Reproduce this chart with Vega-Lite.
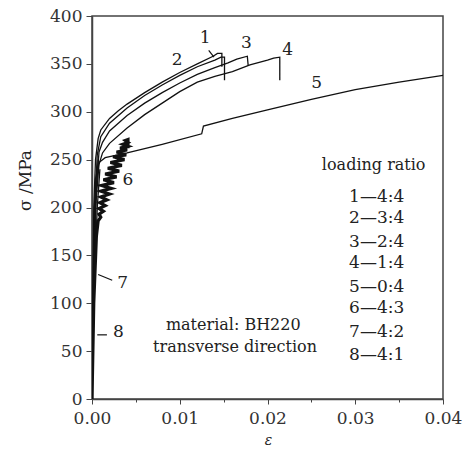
{
  "$schema": "https://vega.github.io/schema/vega-lite/v6.json",
  "width": 351,
  "height": 383,
  "autosize": {"type": "none"},
  "padding": {"left": 92, "top": 16, "right": 22, "bottom": 53},
  "background": "white",
  "config": {
    "view": {"stroke": "#444", "strokeWidth": 1.5},
    "font": "DejaVu Serif",
    "axis": {"grid": false, "domainColor": "#444", "domainWidth": 1.5, "tickColor": "#444", "labelColor": "#333", "labelFont": "DejaVu Serif", "labelFontSize": 17, "titleFont": "DejaVu Serif", "titleFontWeight": "normal", "titleColor": "#222"}
  },
  "datasets": {
    "curves": [
      {"s": "1", "i": 0, "x": 0, "y": 0},
      {"s": "1", "i": 1, "x": 0.0001, "y": 100},
      {"s": "1", "i": 2, "x": 0.0002, "y": 200},
      {"s": "1", "i": 3, "x": 0.0004, "y": 250},
      {"s": "1", "i": 4, "x": 0.0007, "y": 272},
      {"s": "1", "i": 5, "x": 0.001, "y": 281},
      {"s": "1", "i": 6, "x": 0.002, "y": 293},
      {"s": "1", "i": 7, "x": 0.003, "y": 301},
      {"s": "1", "i": 8, "x": 0.004, "y": 308},
      {"s": "1", "i": 9, "x": 0.006, "y": 320},
      {"s": "1", "i": 10, "x": 0.008, "y": 331},
      {"s": "1", "i": 11, "x": 0.010, "y": 341},
      {"s": "1", "i": 12, "x": 0.012, "y": 350},
      {"s": "1", "i": 13, "x": 0.0138, "y": 358},
      {"s": "1", "i": 14, "x": 0.0143, "y": 361},
      {"s": "1", "i": 15, "x": 0.0148, "y": 361},
      {"s": "1", "i": 16, "x": 0.0148, "y": 347},
      {"s": "2", "i": 0, "x": 0, "y": 0},
      {"s": "2", "i": 1, "x": 0.0001, "y": 90},
      {"s": "2", "i": 2, "x": 0.0003, "y": 200},
      {"s": "2", "i": 3, "x": 0.0006, "y": 255},
      {"s": "2", "i": 4, "x": 0.001, "y": 274},
      {"s": "2", "i": 5, "x": 0.002, "y": 288},
      {"s": "2", "i": 6, "x": 0.004, "y": 304},
      {"s": "2", "i": 7, "x": 0.006, "y": 317},
      {"s": "2", "i": 8, "x": 0.008, "y": 328},
      {"s": "2", "i": 9, "x": 0.010, "y": 338},
      {"s": "2", "i": 10, "x": 0.012, "y": 347},
      {"s": "2", "i": 11, "x": 0.014, "y": 354},
      {"s": "2", "i": 12, "x": 0.0147, "y": 357},
      {"s": "2", "i": 13, "x": 0.0151, "y": 357},
      {"s": "2", "i": 14, "x": 0.0151, "y": 333},
      {"s": "3", "i": 0, "x": 0, "y": 0},
      {"s": "3", "i": 1, "x": 0.0001, "y": 80},
      {"s": "3", "i": 2, "x": 0.0004, "y": 210},
      {"s": "3", "i": 3, "x": 0.0008, "y": 258},
      {"s": "3", "i": 4, "x": 0.0012, "y": 268},
      {"s": "3", "i": 5, "x": 0.002, "y": 280},
      {"s": "3", "i": 6, "x": 0.004, "y": 296},
      {"s": "3", "i": 7, "x": 0.006, "y": 309},
      {"s": "3", "i": 8, "x": 0.008, "y": 320},
      {"s": "3", "i": 9, "x": 0.010, "y": 330},
      {"s": "3", "i": 10, "x": 0.012, "y": 339},
      {"s": "3", "i": 11, "x": 0.014, "y": 346},
      {"s": "3", "i": 12, "x": 0.0155, "y": 351},
      {"s": "3", "i": 13, "x": 0.0165, "y": 355},
      {"s": "3", "i": 14, "x": 0.0177, "y": 358},
      {"s": "3", "i": 15, "x": 0.0178, "y": 348},
      {"s": "4", "i": 0, "x": 0, "y": 0},
      {"s": "4", "i": 1, "x": 0.0001, "y": 70},
      {"s": "4", "i": 2, "x": 0.0004, "y": 200},
      {"s": "4", "i": 3, "x": 0.0008, "y": 245},
      {"s": "4", "i": 4, "x": 0.0012, "y": 257},
      {"s": "4", "i": 5, "x": 0.002, "y": 267},
      {"s": "4", "i": 6, "x": 0.004, "y": 283},
      {"s": "4", "i": 7, "x": 0.006, "y": 297},
      {"s": "4", "i": 8, "x": 0.008, "y": 309},
      {"s": "4", "i": 9, "x": 0.010, "y": 321},
      {"s": "4", "i": 10, "x": 0.012, "y": 331},
      {"s": "4", "i": 11, "x": 0.014, "y": 337},
      {"s": "4", "i": 12, "x": 0.016, "y": 342},
      {"s": "4", "i": 13, "x": 0.018, "y": 349},
      {"s": "4", "i": 14, "x": 0.020, "y": 354},
      {"s": "4", "i": 15, "x": 0.0207, "y": 356},
      {"s": "4", "i": 16, "x": 0.0214, "y": 357},
      {"s": "4", "i": 17, "x": 0.0214, "y": 333},
      {"s": "5", "i": 0, "x": 0, "y": 0},
      {"s": "5", "i": 1, "x": 0.0001, "y": 90},
      {"s": "5", "i": 2, "x": 0.0002, "y": 180},
      {"s": "5", "i": 3, "x": 0.0004, "y": 230},
      {"s": "5", "i": 4, "x": 0.0008, "y": 247},
      {"s": "5", "i": 5, "x": 0.0015, "y": 252},
      {"s": "5", "i": 6, "x": 0.004, "y": 257},
      {"s": "5", "i": 7, "x": 0.008, "y": 266},
      {"s": "5", "i": 8, "x": 0.0125, "y": 277},
      {"s": "5", "i": 9, "x": 0.0127, "y": 285},
      {"s": "5", "i": 10, "x": 0.016, "y": 293},
      {"s": "5", "i": 11, "x": 0.020, "y": 302},
      {"s": "5", "i": 12, "x": 0.025, "y": 313},
      {"s": "5", "i": 13, "x": 0.030, "y": 323},
      {"s": "5", "i": 14, "x": 0.035, "y": 331},
      {"s": "5", "i": 15, "x": 0.040, "y": 338},
      {"s": "7", "i": 0, "x": 0, "y": 0},
      {"s": "7", "i": 1, "x": 0.0003, "y": 130},
      {"s": "7", "i": 2, "x": 0.0006, "y": 200},
      {"s": "7", "i": 3, "x": 0.0009, "y": 240},
      {"s": "8", "i": 0, "x": 0, "y": 0},
      {"s": "8", "i": 1, "x": 0.0001, "y": 70},
      {"s": "8", "i": 2, "x": 0.0003, "y": 150},
      {"s": "8", "i": 3, "x": 0.0005, "y": 220},
      {"s": "8", "i": 4, "x": 0.0007, "y": 250}
    ],
    "curve6": [
      {"s": "6", "i": 0, "x": 0, "y": 0},
      {"s": "6", "i": 1, "x": 0.0002, "y": 100},
      {"s": "6", "i": 2, "x": 0.0005, "y": 170},
      {"s": "6", "i": 3, "x": 0.0007, "y": 186},
      {"s": "6", "i": 4, "x": 0.0010, "y": 190},
      {"s": "6", "i": 5, "x": 0.0008, "y": 193},
      {"s": "6", "i": 6, "x": 0.0013, "y": 196},
      {"s": "6", "i": 7, "x": 0.0008, "y": 199},
      {"s": "6", "i": 8, "x": 0.0015, "y": 202},
      {"s": "6", "i": 9, "x": 0.0009, "y": 205},
      {"s": "6", "i": 10, "x": 0.0017, "y": 208},
      {"s": "6", "i": 11, "x": 0.0010, "y": 211},
      {"s": "6", "i": 12, "x": 0.0020, "y": 214},
      {"s": "6", "i": 13, "x": 0.0010, "y": 217},
      {"s": "6", "i": 14, "x": 0.0022, "y": 220},
      {"s": "6", "i": 15, "x": 0.0011, "y": 223},
      {"s": "6", "i": 16, "x": 0.0025, "y": 226},
      {"s": "6", "i": 17, "x": 0.0013, "y": 229},
      {"s": "6", "i": 18, "x": 0.0028, "y": 232},
      {"s": "6", "i": 19, "x": 0.0015, "y": 235},
      {"s": "6", "i": 20, "x": 0.0031, "y": 238},
      {"s": "6", "i": 21, "x": 0.0018, "y": 241},
      {"s": "6", "i": 22, "x": 0.0034, "y": 244},
      {"s": "6", "i": 23, "x": 0.0021, "y": 247},
      {"s": "6", "i": 24, "x": 0.0037, "y": 250},
      {"s": "6", "i": 25, "x": 0.0024, "y": 253},
      {"s": "6", "i": 26, "x": 0.0039, "y": 255},
      {"s": "6", "i": 27, "x": 0.0028, "y": 258},
      {"s": "6", "i": 28, "x": 0.0040, "y": 260},
      {"s": "6", "i": 29, "x": 0.0032, "y": 262},
      {"s": "6", "i": 30, "x": 0.0041, "y": 264},
      {"s": "6", "i": 31, "x": 0.0035, "y": 266},
      {"s": "6", "i": 32, "x": 0.0041, "y": 268},
      {"s": "6", "i": 33, "x": 0.0038, "y": 270},
      {"s": "6", "i": 34, "x": 0.0041, "y": 271},
      {"s": "6", "i": 35, "x": 0.0041, "y": 262}
    ],
    "leaders": [
      {"x": 0.0133, "y": 364, "x2": 0.0139, "y2": 357},
      {"x": 0.0007, "y": 130, "x2": 0.0023, "y2": 124},
      {"x": 0.0006, "y": 67, "x2": 0.0017, "y2": 67}
    ],
    "curveLabels": [
      {"t": "1", "x": 0.0129, "y": 377},
      {"t": "2", "x": 0.0097, "y": 354},
      {"t": "3", "x": 0.0176, "y": 372},
      {"t": "4", "x": 0.0223, "y": 365},
      {"t": "5", "x": 0.0256, "y": 330},
      {"t": "6", "x": 0.0041, "y": 229},
      {"t": "7", "x": 0.0035, "y": 121},
      {"t": "8", "x": 0.0030, "y": 70}
    ],
    "centerText": [
      {"t": "loading ratio", "x": 0.0321, "y": 244},
      {"t": "material: BH220", "x": 0.0161, "y": 77},
      {"t": "transverse direction", "x": 0.0163, "y": 54}
    ],
    "legendRows": [
      {"t": "1—4:4", "x": 0.0293, "y": 211},
      {"t": "2—3:4", "x": 0.0293, "y": 189},
      {"t": "3—2:4", "x": 0.0293, "y": 164},
      {"t": "4—1:4", "x": 0.0293, "y": 142},
      {"t": "5—0:4", "x": 0.0293, "y": 117},
      {"t": "6—4:3", "x": 0.0293, "y": 95},
      {"t": "7—4:2", "x": 0.0293, "y": 70},
      {"t": "8—4:1", "x": 0.0293, "y": 46}
    ]
  },
  "layer": [
    {
      "data": {"name": "curves"},
      "mark": {"type": "line", "color": "#111", "clip": true, "strokeWidth": 1.3},
      "encoding": {
        "x": {
          "field": "x", "type": "quantitative",
          "scale": {"domain": [0, 0.04], "nice": false, "zero": true},
          "axis": {
            "title": "ε", "titleFontStyle": "italic", "titleFontSize": 14, "titleX": 176, "titleY": 45, "titleBaseline": "alphabetic",
            "values": [0, 0.005, 0.01, 0.015, 0.02, 0.025, 0.03, 0.035, 0.04],
            "labelExpr": "round(datum.value*1000) % 10 === 0 ? format(datum.value, '.2f') : ''",
            "labelFlush": false, "labelPadding": 6,
            "tickSize": {"condition": {"test": "round(datum.value*1000) % 10 === 0", "value": 5}, "value": 3}
          }
        },
        "y": {
          "field": "y", "type": "quantitative",
          "scale": {"domain": [0, 400], "nice": false},
          "axis": {
            "title": "σ /MPa", "titleFontSize": 17, "titleX": -62, "titleY": 164, "titleAlign": "center", "titleBaseline": "alphabetic",
            "values": [0, 25, 50, 75, 100, 125, 150, 175, 200, 225, 250, 275, 300, 325, 350, 375, 400],
            "labelExpr": "datum.value % 50 === 0 ? datum.label : ''",
            "labelPadding": 4,
            "tickSize": {"condition": {"test": "datum.value % 50 === 0", "value": 6}, "value": 3}
          }
        },
        "detail": {"field": "s", "type": "nominal"},
        "order": {"field": "i", "type": "quantitative"}
      }
    },
    {
      "data": {"name": "curve6"},
      "mark": {"type": "line", "color": "#111", "clip": true, "strokeWidth": 3.2},
      "encoding": {
        "x": {"field": "x", "type": "quantitative"},
        "y": {"field": "y", "type": "quantitative"},
        "order": {"field": "i", "type": "quantitative"}
      }
    },
    {
      "data": {"name": "leaders"},
      "mark": {"type": "rule", "color": "#111", "strokeWidth": 1.2},
      "encoding": {
        "x": {"field": "x", "type": "quantitative"},
        "y": {"field": "y", "type": "quantitative"},
        "x2": {"field": "x2"},
        "y2": {"field": "y2"}
      }
    },
    {
      "data": {"name": "curveLabels"},
      "mark": {"type": "text", "fontSize": 17, "color": "#222", "align": "center", "baseline": "middle"},
      "encoding": {
        "x": {"field": "x", "type": "quantitative"},
        "y": {"field": "y", "type": "quantitative"},
        "text": {"field": "t"}
      }
    },
    {
      "data": {"name": "centerText"},
      "mark": {"type": "text", "fontSize": 16, "color": "#222", "align": "center", "baseline": "middle"},
      "encoding": {
        "x": {"field": "x", "type": "quantitative"},
        "y": {"field": "y", "type": "quantitative"},
        "text": {"field": "t"}
      }
    },
    {
      "data": {"name": "legendRows"},
      "mark": {"type": "text", "fontSize": 17, "color": "#222", "align": "left", "baseline": "middle"},
      "encoding": {
        "x": {"field": "x", "type": "quantitative"},
        "y": {"field": "y", "type": "quantitative"},
        "text": {"field": "t"}
      }
    }
  ]
}
